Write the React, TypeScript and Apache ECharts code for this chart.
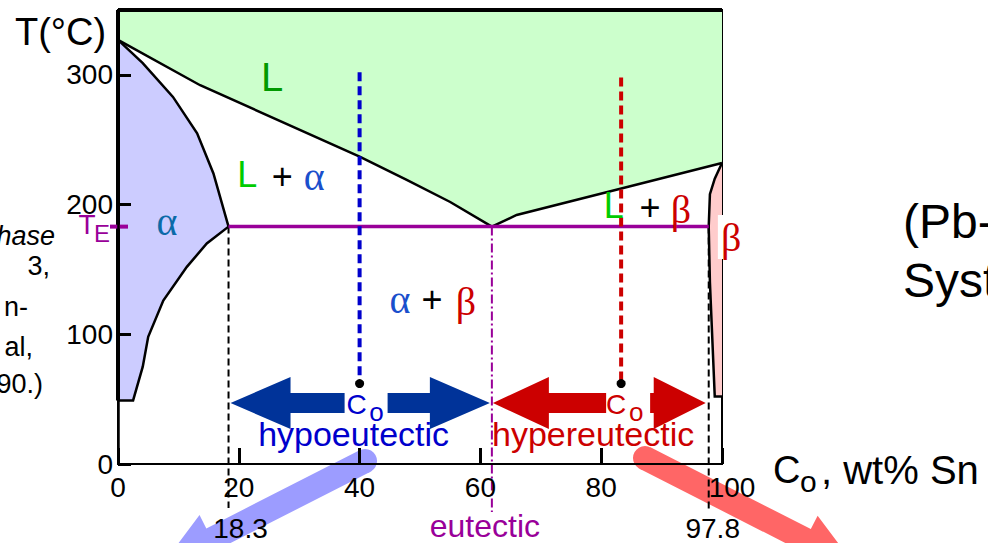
import React, { useEffect, useRef } from "react";
import * as echarts from "echarts";

// ---------------- data ----------------
const xTickValues = [0, 20, 40, 60, 80, 100];
const yTickValues = [0, 100, 200, 300];
const temperatureMax = 350;

const liquidusAlpha: number[][] = [[0, 327], [13.6, 292], [40, 237], [47.8, 219], [55, 202], [61.9, 183]];
const liquidusBeta: number[][] = [[61.9, 183], [66, 192], [83, 212], [100, 232]];
const solidusAlpha: number[][] = [[0, 327], [4.1, 309], [9.1, 283], [13.1, 255], [15.8, 224], [18.3, 183]];
const solvusAlpha: number[][] = [[18.3, 183], [14.7, 170], [11.4, 152], [7.5, 126], [5, 98], [4.1, 75], [2.5, 49], [0, 49]];
const betaBoundary: number[][] = [[100, 232], [98.8, 220], [98, 208], [97.8, 183], [98, 140], [98.8, 52], [100, 52]];

const eutecticTemp = 183;
const eutecticComp = 61.9;
const alphaMaxComp = 18.3;
const betaMinComp = 97.8;
const hypoComp = 40;
const hyperComp = 83.3;
const hypoLineTop = 302;
const hyperLineTop = 298;
const compositionDotTemp = 62;
const arrowTemp = 47;
const pointerStartHypo = [40.9, 2.3];
const pointerStartHyper = [87.25, 4.6];

const SANS = '"Liberation Sans", Arial, sans-serif';
const SERIF = '"Liberation Serif", "Times New Roman", serif';

function txt(x: number, y: number, text: string, size: number, fill: string, opts: any = {}) {
  const align = opts.align || "center";
  const v = opts.v || "middle";
  const style: any = {
    text,
    fill,
    font: `${opts.italic ? "italic " : ""}${size}px ${opts.family || SANS}`,
    textAlign: align,
    textVerticalAlign: v,
    align,
    verticalAlign: v,
  };
  if (opts.bg) {
    style.backgroundColor = opts.bg;
    style.textBackgroundColor = opts.bg;
    style.padding = opts.pad || [0, 0, 0, 0];
    style.textPadding = opts.pad || [0, 0, 0, 0];
  }
  return { type: "text", x, y, z2: 10, style };
}

function poly(points: number[][], fill: string) {
  return { type: "polygon", shape: { points }, style: { fill, stroke: "none" } };
}

function pline(points: number[][], stroke: string, lineWidth: number, lineDash?: number[]) {
  const style: any = { stroke, lineWidth, fill: "none" };
  if (lineDash) style.lineDash = lineDash;
  return { type: "polyline", shape: { points }, style };
}

function doubleArrowPart(tipX: number, y: number, dir: number, tailX: number, headLen: number, color: string) {
  const hh = 26;
  const sh = 10;
  const bx = tipX - dir * headLen;
  const tail = dir * (bx - tailX) < 0 ? bx : tailX;
  return poly(
    [
      [tipX, y],
      [bx, y - hh],
      [bx, y - sh],
      [tail, y - sh],
      [tail, y + sh],
      [bx, y + sh],
      [bx, y + hh],
    ],
    color
  );
}

function pointer(sx: number, sy: number, angDeg: number, lenBack: number, color: string) {
  const ang = (angDeg * Math.PI) / 180;
  const ux = Math.cos(ang);
  const uy = Math.sin(ang);
  const nx = -uy;
  const ny = ux;
  const sw = 12;
  const hw = 27;
  const headLen = 55;
  const bx = sx + ux * lenBack;
  const by = sy + uy * lenBack;
  const tx = bx + ux * headLen;
  const ty = by + uy * headLen;
  const pts = [
    [sx + nx * sw, sy + ny * sw],
    [bx + nx * sw, by + ny * sw],
    [bx + nx * hw, by + ny * hw],
    [tx, ty],
    [bx - nx * hw, by - ny * hw],
    [bx - nx * sw, by - ny * sw],
    [sx - nx * sw, sy - ny * sw],
  ];
  return [poly(pts, color), { type: "circle", shape: { cx: sx, cy: sy, r: sw }, style: { fill: color } }];
}

export default function App() {
  const ref = useRef<HTMLDivElement>(null);

  useEffect(() => {
    const chart = echarts.init(ref.current!, null, { renderer: "svg" });

    const lRegion = [[0, temperatureMax], [100, temperatureMax], ...liquidusBeta.slice().reverse(), ...liquidusAlpha.slice(0, -1).reverse()];
    const alphaRegion = [...solidusAlpha, ...solvusAlpha.slice(1)];
    const betaRegion = [...betaBoundary];

    const renderFills = (_p: any, api: any) => {
      const c = (pts: number[][]) => pts.map((p) => api.coord(p));
      return {
        type: "group",
        children: [poly(c(lRegion), "#ccffcc"), poly(c(alphaRegion), "#ccccff"), poly(c(betaRegion), "#ffcccc")],
      };
    };

    const renderPointers = (_p: any, api: any) => {
      const a = api.coord(pointerStartHypo);
      const b = api.coord(pointerStartHyper);
      return {
        type: "group",
        children: [...pointer(a[0], a[1], 153, 172, "#9c9cff"), ...pointer(b[0], b[1], 27, 180, "#ff6666")],
      };
    };

    const renderLines = (_p: any, api: any) => {
      const c = (pts: number[][]) => pts.map((p) => api.coord(p));
      const y0 = api.coord([0, 0])[1];
      const te = api.coord([0, eutecticTemp]);
      const a = api.coord([alphaMaxComp, eutecticTemp]);
      const b = api.coord([betaMinComp, eutecticTemp]);
      const e = api.coord([eutecticComp, eutecticTemp]);
      return {
        type: "group",
        children: [
          pline(c(liquidusAlpha), "#000", 2.5),
          pline(c(liquidusBeta), "#000", 2.5),
          pline(c(solidusAlpha), "#000", 2.5),
          pline(c(solvusAlpha), "#000", 2.5),
          pline(c(betaBoundary), "#000", 2.5),
          pline(c([[0, temperatureMax], [0, 49]]), "#000", 4),
          pline(c([[0, temperatureMax], [100, temperatureMax]]), "#000", 4),
          pline([[a[0], a[1]], [a[0], y0 + 44]], "#000", 2, [7, 4]),
          pline([[b[0], b[1]], [b[0], y0 + 48]], "#000", 2, [7, 4]),
          pline([[e[0], e[1]], [e[0], y0 + 48]], "#990099", 2, [9, 3, 2, 3]),
          pline(c([[alphaMaxComp, eutecticTemp], [betaMinComp, eutecticTemp]]), "#990099", 3.5),
          pline([[te[0] - 8, te[1]], [te[0] + 10, te[1]]], "#990099", 4),
        ],
      };
    };

    const renderAnnotations = (_p: any, api: any) => {
      const c = (pts: number[][]) => pts.map((p) => api.coord(p));
      const hypoDot = api.coord([hypoComp, compositionDotTemp]);
      const hyperDot = api.coord([hyperComp, compositionDotTemp]);
      const y = api.coord([0, arrowTemp])[1];
      const xa = api.coord([alphaMaxComp, 0])[0];
      const xe = api.coord([eutecticComp, 0])[0];
      const xb = api.coord([betaMinComp, 0])[0];
      const xh = api.coord([hypoComp, 0])[0];
      const xr = api.coord([hyperComp, 0])[0];
      return {
        type: "group",
        children: [
          pline(c([[hypoComp, hypoLineTop], [hypoComp, compositionDotTemp]]), "#0000cc", 4, [9, 5]),
          pline(c([[hyperComp, hyperLineTop], [hyperComp, compositionDotTemp]]), "#cc0000", 4, [9, 5]),
          { type: "circle", shape: { cx: hypoDot[0], cy: hypoDot[1], r: 4.5 }, style: { fill: "#000" } },
          { type: "circle", shape: { cx: hyperDot[0], cy: hyperDot[1], r: 4.5 }, style: { fill: "#000" } },
          doubleArrowPart(xa + 2, y, -1, xh - 15, 60, "#003399"),
          doubleArrowPart(xe - 2, y, 1, xh + 28, 60, "#003399"),
          doubleArrowPart(xe + 1, y, -1, xr - 15, 56, "#cc0000"),
          doubleArrowPart(xb - 3, y, 1, xr + 29, 52, "#cc0000"),
        ],
      };
    };

    const renderTexts = (_p: any, api: any) => {
      const P = (p: number[]) => api.coord(p);
      const y0 = api.coord([0, 0])[1];
      const ch = [] as any[];
      let q = P([25.5, 298]);
      ch.push(txt(q[0], q[1], "L", 40, "#009900"));
      q = P([21.4, 223]);
      ch.push(txt(q[0], q[1], "L", 36, "#00cc00"));
      q = P([27.2, 221.5]);
      ch.push(txt(q[0], q[1], "+", 36, "#000"));
      q = P([32.5, 222]);
      ch.push(txt(q[0], q[1], "α", 40, "#1a4fcc", { family: SERIF }));
      q = P([8.1, 186.6]);
      ch.push(txt(q[0], q[1], "α", 40, "#0b6aa8", { family: SERIF }));
      q = P([46.7, 126.5]);
      ch.push(txt(q[0], q[1], "α", 40, "#1a4fcc", { family: SERIF }));
      q = P([52.0, 127]);
      ch.push(txt(q[0], q[1], "+", 36, "#000"));
      q = P([57.6, 125]);
      ch.push(txt(q[0], q[1], "β", 40, "#cc0000", { family: SERIF }));
      q = P([82.1, 199]);
      ch.push(txt(q[0], q[1], "L", 36, "#00cc00"));
      q = P([88.1, 198]);
      ch.push(txt(q[0], q[1], "+", 36, "#000"));
      q = P([93.2, 196]);
      ch.push(txt(q[0], q[1], "β", 40, "#cc0000", { family: SERIF }));
      q = P([101.5, 175]);
      ch.push(txt(q[0], q[1], "β", 40, "#cc0000", { family: SERIF, bg: "#ffffff", pad: [2, 3, 2, 3] }));
      // T_E
      q = P([0, eutecticTemp]);
      ch.push(txt(q[0] - 31, q[1] - 2, "T", 28, "#990099"));
      ch.push(txt(q[0] - 16, q[1] + 7, "E", 24, "#990099"));
      // C0 labels
      const h = P([hypoComp, arrowTemp]);
      ch.push(txt(h[0] - 3, h[1] + 1, "C", 28, "#0000cc"));
      ch.push(txt(h[0] + 17, h[1] + 9, "o", 26, "#0000cc"));
      const r = P([hyperComp, arrowTemp]);
      ch.push(txt(r[0] - 5, r[1] + 1, "C", 28, "#cc0000"));
      ch.push(txt(r[0] + 15, r[1] + 9, "o", 26, "#cc0000"));
      ch.push(txt(h[0] - 6, h[1] + 31, "hypoeutectic", 34, "#0000cc"));
      ch.push(txt(r[0] - 28, r[1] + 31, "hypereutectic", 34, "#cc0000"));
      // bottom values
      const xa = P([alphaMaxComp, 0])[0];
      const xb = P([betaMinComp, 0])[0];
      const xe = P([eutecticComp, 0])[0];
      ch.push(txt(xa + 12, y0 + 64, String(alphaMaxComp), 28, "#000"));
      ch.push(txt(xb + 4, y0 + 64, String(betaMinComp), 28, "#000"));
      ch.push(txt(xe - 7, y0 + 62, "eutectic", 32, "#990099"));
      return { type: "group", children: ch };
    };

    const gtxt = (x: number, y: number, text: string, size: number, opts: any = {}) => {
      const t: any = txt(x, y, text, size, opts.fill || "#000", { align: opts.align || "left", italic: opts.italic });
      t.z = 20;
      return t;
    };

    const option: any = {
      animation: false,
      backgroundColor: "#ffffff",
      textStyle: { fontFamily: SANS },
      grid: {
        left: 118,
        right: 266,
        top: 10,
        bottom: 79,
        show: true,
        borderColor: "#000",
        borderWidth: 2,
        backgroundColor: "transparent",
      },
      xAxis: {
        type: "value",
        min: 0,
        max: 100,
        interval: 20,
        z: 5,
        axisLine: { show: true, lineStyle: { color: "#000", width: 2 } },
        axisTick: { show: true, inside: true, length: 16, lineStyle: { color: "#000", width: 3 } },
        splitLine: { show: false },
        axisLabel: {
          color: "#000",
          fontSize: 28,
          fontFamily: SANS,
          margin: 9,
          formatter: (v: number) => (xTickValues.includes(v) ? (v === 100 ? "{r|100}" : String(v)) : ""),
          rich: { r: { fontSize: 28, fontFamily: SANS, color: "#000", padding: [0, 0, 0, 20] } },
        },
      },
      yAxis: {
        type: "value",
        min: 0,
        max: temperatureMax,
        interval: 100,
        z: 5,
        axisLine: { show: true, lineStyle: { color: "#000", width: 2.5 } },
        axisTick: { show: true, inside: true, length: 13, lineStyle: { color: "#000", width: 3 } },
        splitLine: { show: false },
        axisLabel: {
          color: "#000",
          fontSize: 28,
          fontFamily: SANS,
          margin: 5,
          showMaxLabel: false,
          formatter: (v: number) => (yTickValues.includes(v) ? String(v) : ""),
        },
      },
      series: [
        { type: "custom", z: 1, silent: true, clip: false, data: [[0, 0]], renderItem: renderFills },
        { type: "custom", z: 1, silent: true, clip: false, data: [[0, 0]], renderItem: renderPointers },
        { type: "custom", z: 3, silent: true, clip: false, data: [[0, 0]], renderItem: renderLines },
        { type: "custom", z: 4, silent: true, clip: false, data: [[0, 0]], renderItem: renderAnnotations },
        { type: "custom", z: 6, silent: true, clip: false, data: [[0, 0]], renderItem: renderTexts },
      ],
      graphic: [
        gtxt(15, 32, "T(°C)", 38),
        gtxt(773, 470, "C", 38),
        gtxt(800, 481, "o", 30),
        gtxt(821, 470, ", wt% Sn", 40),
        gtxt(903, 221, "(Pb-Sn", 48),
        gtxt(903, 280, "System)", 48),
        gtxt(55, 236, "hase", 27, { align: "right", italic: true }),
        gtxt(50, 266, "3,", 27, { align: "right" }),
        gtxt(28, 307, "n-", 27, { align: "right" }),
        gtxt(33, 347, "al,", 27, { align: "right" }),
        gtxt(43, 384, "90.)", 27, { align: "right" }),
      ],
    };

    chart.setOption(option);
    return () => chart.dispose();
  }, []);

  return (
    <div
      ref={ref}
      style={{ position: "fixed", left: 0, top: 0, width: 988, height: 543, background: "#ffffff" }}
    />
  );
}
